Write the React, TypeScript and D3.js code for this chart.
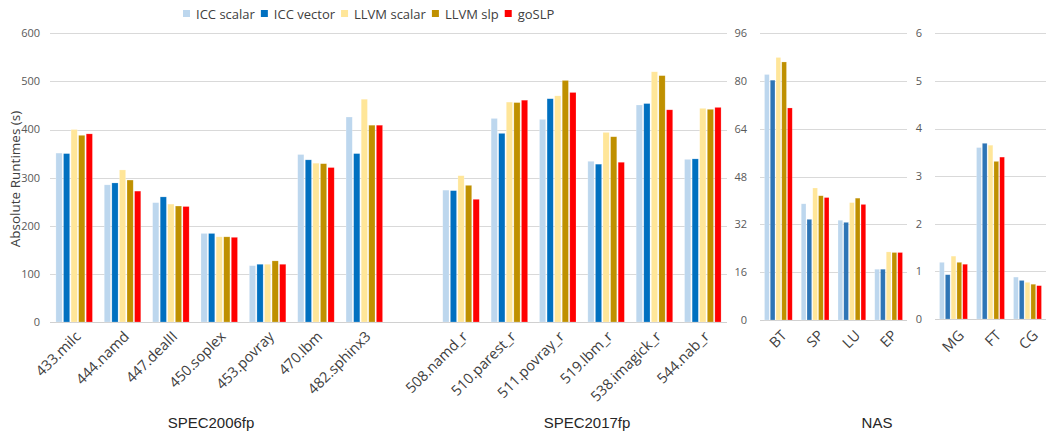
import React, { useEffect, useRef } from 'react';
import * as d3 from 'd3';

const seriesNames = ['ICC scalar', 'ICC vector', 'LLVM scalar', 'LLVM slp', 'goSLP'];

// SPEC panel (one empty slot between 2006fp and 2017fp)
const specCategories = ['433.milc', '444.namd', '447.dealII', '450.soplex', '453.povray', '470.lbm', '482.sphinx3', '',
    '508.namd_r', '510.parest_r', '511.povray_r', '519.lbm_r', '538.imagick_r', '544.nab_r'];
const specIccScalar = [351, 285, 248, 184, 117, 348, 426, null, 274, 423, 421, 334, 451, 338];
const specIccVector = [350, 289, 260, 184, 120, 337, 350, null, 273, 392, 464, 328, 454, 339];
const specLlvmScalar = [400, 316, 245, 177, 120, 330, 463, null, 304, 457, 470, 394, 520, 444];
const specLlvmSlp = [388, 295, 241, 177, 127, 329, 409, null, 284, 456, 502, 385, 512, 442];
const specGoSlp = [391, 272, 240, 176, 120, 321, 409, null, 255, 461, 477, 332, 441, 446];
const specTicks = [0, 100, 200, 300, 400, 500, 600];

// NAS, large runtimes
const nasACategories = ['BT', 'SP', 'LU', 'EP'];
const nasAIccScalar = [82.2, 38.9, 33.4, 17];
const nasAIccVector = [80.3, 33.7, 32.7, 17];
const nasALlvmScalar = [87.9, 44.2, 39.3, 22.8];
const nasALlvmSlp = [86.4, 41.6, 40.8, 22.6];
const nasAGoSlp = [71, 41, 38.7, 22.6];
const nasATicks = [0, 16, 32, 48, 64, 80, 96];

// NAS, small runtimes
const nasBCategories = ['MG', 'FT', 'CG'];
const nasBIccScalar = [1.19, 3.6, 0.88];
const nasBIccVector = [0.93, 3.69, 0.81];
const nasBLlvmScalar = [1.32, 3.65, 0.77];
const nasBLlvmSlp = [1.19, 3.31, 0.73];
const nasBGoSlp = [1.15, 3.4, 0.70];
const nasBTicks = [0, 1, 2, 3, 4, 5, 6];

const groupTitles = ['SPEC2006fp', 'SPEC2017fp', 'NAS'];

const specColors = ['#BDD7EE', '#0070C0', '#FFE699', '#BF9000', '#FF0000'];
const nasColors = ['#BDD7EE', '#2E75B6', '#FFE699', '#BF9000', '#FF0000'];

const font = "'Open Sans', sans-serif";

export default function App() {
    const ref = useRef(null);

    useEffect(() => {
        document.body.style.margin = '0';
        drawChart();
    }, []);

    const drawChart = () => {
        const width = 1050;
        const height = 433;

        d3.select(ref.current).selectAll('*').remove();

        const svg = d3.select(ref.current)
            .attr('width', width)
            .attr('height', height)
            .style('display', 'block')
            .style('background', '#ffffff');

        const panels = [
            {
                categories: specCategories,
                values: [specIccScalar, specIccVector, specLlvmScalar, specLlvmSlp, specGoSlp],
                ticks: specTicks, x0: 50, x1: 727, y0: 322, labelX: 40, colors: specColors, catDx: 0, catDy: 8
            },
            {
                categories: nasACategories,
                values: [nasAIccScalar, nasAIccVector, nasALlvmScalar, nasALlvmSlp, nasAGoSlp],
                ticks: nasATicks, x0: 760, x1: 907, y0: 320, labelX: 747, colors: nasColors, catDx: 2, catDy: 9
            },
            {
                categories: nasBCategories,
                values: [nasBIccScalar, nasBIccVector, nasBLlvmScalar, nasBLlvmSlp, nasBGoSlp],
                ticks: nasBTicks, x0: 935, x1: 1046, y0: 319, labelX: 922, colors: nasColors, catDx: 4, catDy: 10
            }
        ];

        panels.forEach((p) => {
            const g = svg.append('g');
            const yScale = d3.scaleLinear()
                .domain([0, p.ticks[p.ticks.length - 1]])
                .range([p.y0, 33.3]);

            const xScale = d3.scaleBand()
                .domain(p.categories)
                .range([p.x0, p.x1])
                .paddingInner(0.245)
                .paddingOuter(0.1225);

            const inner = d3.scaleBand()
                .domain(seriesNames)
                .range([0, xScale.bandwidth()])
                .paddingInner(0.18);

            // gridlines
            g.selectAll('.grid')
                .data(p.ticks)
                .enter()
                .append('line')
                .attr('x1', p.x0)
                .attr('x2', p.x1)
                .attr('y1', (d) => Math.round(yScale(d)) + 0.5)
                .attr('y2', (d) => Math.round(yScale(d)) + 0.5)
                .style('stroke', (d) => d === 0 ? '#D0D0D0' : '#D9D9D9')
                .style('stroke-width', 1);

            g.selectAll('.tick-label')
                .data(p.ticks)
                .enter()
                .append('text')
                .attr('x', p.labelX)
                .attr('y', (d) => yScale(d))
                .attr('dy', '0.35em')
                .attr('text-anchor', 'end')
                .style('font-family', font)
                .style('font-size', '11px')
                .style('fill', '#595959')
                .text((d) => d);

            // bars
            seriesNames.forEach((name, si) => {
                const rows = p.categories
                    .map((c, ci) => ({ c, v: p.values[si][ci] }))
                    .filter((r) => r.v != null);
                g.selectAll(`.bar-${si}`)
                    .data(rows)
                    .enter()
                    .append('rect')
                    .attr('x', (d) => xScale(d.c) + inner(name))
                    .attr('y', (d) => yScale(d.v))
                    .attr('width', inner.bandwidth())
                    .attr('height', (d) => yScale(0) - yScale(d.v))
                    .style('fill', p.colors[si])
                    .style('stroke', '#ffffff')
                    .style('stroke-opacity', 0.35)
                    .style('stroke-width', 0.6);
            });

            // category labels, rotated, top-right corner near the group centre
            g.selectAll('.cat-label')
                .data(p.categories.filter((c) => c !== ''))
                .enter()
                .append('text')
                .attr('text-anchor', 'end')
                .attr('transform', (d) => `translate(${xScale(d) + xScale.bandwidth() / 2 + p.catDx}, ${p.y0 + p.catDy}) rotate(-45)`)
                .attr('dy', '0.72em')
                .style('font-family', font)
                .style('font-size', '14.5px')
                .style('fill', '#404040')
                .text((d) => d);
        });

        // y axis title
        svg.append('text')
            .attr('transform', 'translate(20, 179) rotate(-90)')
            .attr('text-anchor', 'middle')
            .style('font-family', font)
            .style('font-size', '13.5px')
            .style('fill', '#404040')
            .text('Absolute Runtimes (s)');

        // group titles
        const titleX = [211, 587, 877];
        svg.selectAll('.group-title')
            .data(groupTitles)
            .enter()
            .append('text')
            .attr('x', (_, i) => titleX[i])
            .attr('y', 428)
            .attr('text-anchor', 'middle')
            .style('font-family', "'Liberation Sans', Arial, sans-serif")
            .style('font-size', '15px')
            .style('fill', '#262626')
            .text((d) => d);

        // legend
        const legend = svg.append('g');
        let lx = 183;
        seriesNames.forEach((name, i) => {
            legend.append('rect')
                .attr('x', lx)
                .attr('y', 10)
                .attr('width', 7)
                .attr('height', 7)
                .style('fill', specColors[i]);
            const t = legend.append('text')
                .attr('x', lx + 13)
                .attr('y', 14)
                .attr('dy', '0.35em')
                .style('font-family', font)
                .style('font-size', '13px')
                .style('fill', '#404040')
                .text(name);
            const w = (t.node() as SVGTextElement).getComputedTextLength();
            lx += 13 + w + 6;
        });
    };

    return <svg ref={ref}></svg>;
}
